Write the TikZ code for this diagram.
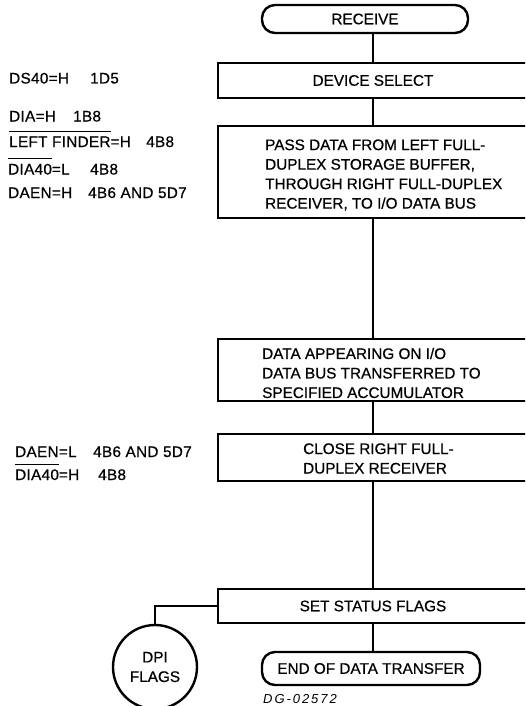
\documentclass[tikz,border=0pt]{standalone}
\usepackage{fontspec}
\setmainfont{Liberation Sans}[FakeBold=0.6]
\newfontfamily\lblfont{Liberation Sans}[FakeBold=0.6, LetterSpace=2]
\newfontfamily\dgfont{Liberation Sans}[LetterSpace=15]
\usetikzlibrary{calc}
\newcommand{\myovl}[1]{\setbox0\hbox{#1}\rlap{\rule[\dimexpr\ht0+4.5pt\relax]{\wd0}{1.2pt}}\box0}
\begin{document}
\begin{tikzpicture}[x=1pt,y=-1pt,
  every node/.style={font=\fontsize{15.3}{19.5}\selectfont},
  box/.style={draw, line width=2.4pt, rectangle, minimum width=310pt, inner sep=0pt},
  term/.style={draw, line width=2.4pt, rectangle, rounded corners=13pt, inner sep=0pt},
  conn/.style={line width=2.4pt},
  txt/.style={inner sep=0pt, align=left},
  lbl/.style={inner sep=0pt, anchor=base west, font=\lblfont\fontsize{15.3}{19.5}\selectfont}]
\useasboundingbox (0,0) rectangle (525,706);
\clip (0,0) rectangle (525,706);
\fill[white] (0,0) rectangle (525,706);

\node[term, minimum width=206pt, minimum height=28pt] (receive) at (365,19) {RECEIVE};
\node[box, minimum height=35pt] (dev) at (373,80.5) {DEVICE SELECT};
\node[box, minimum height=92pt] (pass) at (373,172) {};
\node[txt, anchor=west] (passt) at (265,175) {PASS DATA FROM LEFT FULL-\\DUPLEX STORAGE BUFFER,\\THROUGH RIGHT FULL-DUPLEX\\RECEIVER, TO I/O DATA BUS};
\node[box, minimum height=62pt] (acc) at (373,370) {};
\node[txt, anchor=west] (acct) at (262,373) {DATA APPEARING ON I/O\\DATA BUS TRANSFERRED TO\\SPECIFIED ACCUMULATOR};
\node[box, minimum height=47pt] (close) at (373,457.5) {};
\node[txt, anchor=west] (closet) at (303,458.5) {CLOSE RIGHT FULL-\\DUPLEX RECEIVER};
\node[box, minimum height=34pt] (status) at (373,606) {SET STATUS FLAGS};
\node[term, minimum width=218pt, minimum height=33pt] (end) at (371,668.5) {END OF DATA TRANSFER};
\node[circle, draw, line width=2.4pt, minimum size=84pt, inner sep=0pt, align=center] (dpi) at (155,667) {DPI\\FLAGS};

\draw[conn] (receive.south -| dev.north) -- (dev.north);
\draw[conn] (dev.south) -- (pass.north);
\draw[conn] (pass.south) -- (acc.north);
\draw[conn] (acc.south) -- (close.north);
\draw[conn] (close.south) -- (status.north);
\draw[conn] (status.south) -- (status.south |- end.north);
\draw[conn] (dpi.north) |- (status.west);

\node[lbl] (l1) at (9,83.5) {\makebox[81pt][l]{DS40=H}1D5};
\node[lbl] (l2) at (9,121.5) {\makebox[64pt][l]{DIA=H}1B8};
\node[lbl] (l3) at (9,147) {\makebox[137pt][l]{\myovl{LEFT FINDER}=H}4B8};
\node[lbl] (l4) at (8,174.5) {\makebox[82pt][l]{\myovl{DIA40}=L}4B8};
\node[lbl] (l5) at (8,198) {\makebox[80pt][l]{DAEN=H}4B6 AND 5D7};
\node[lbl] (l6) at (15,457) {\makebox[78pt][l]{DAEN=L}4B6 AND 5D7};
\node[lbl] (l7) at (15,480) {\makebox[83pt][l]{\myovl{DIA40}=H}4B8};

\node[lbl, font=\dgfont\itshape\fontsize{13}{15}\selectfont] (dg) at (263,703) {DG-02572};
\end{tikzpicture}
\end{document}
